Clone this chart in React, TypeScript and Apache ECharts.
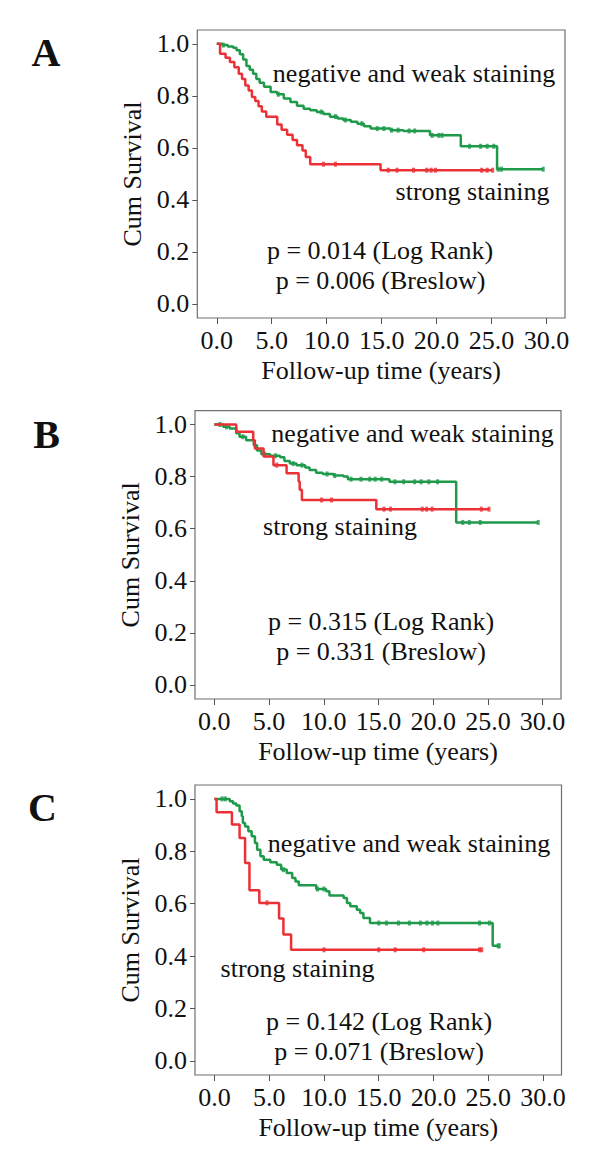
import React, { useEffect, useRef } from "react";
import * as echarts from "echarts";

const GREEN = "#1f9a4b";
const RED = "#eb3136";
const FONT = "'Liberation Serif', 'Times New Roman', serif";

const xTicks = [0, 5, 10, 15, 20, 25, 30];
const yTicks = [0, 0.2, 0.4, 0.6, 0.8, 1.0];
const xRange = [-1.77, 31.68];
const yRange = [-0.054, 1.053];

// Panel A
const aNegT = [0, 0.5, 1.0, 1.5, 1.8, 2.1, 2.4, 2.7, 3.0, 3.3, 3.6, 3.9, 4.3, 4.9, 5.5, 6.1, 6.7, 7.3, 7.9, 8.5, 9.1, 9.7, 10.3, 11.0, 11.5, 12.2, 12.8, 13.4, 14.0, 15.8, 17.0, 19.4, 22.2, 25.5, 29.7];
const aNegS = [1.0, 0.995, 0.99, 0.985, 0.975, 0.96, 0.94, 0.915, 0.9, 0.885, 0.865, 0.85, 0.835, 0.815, 0.806, 0.79, 0.776, 0.762, 0.75, 0.745, 0.738, 0.73, 0.72, 0.713, 0.707, 0.7, 0.693, 0.683, 0.674, 0.668, 0.665, 0.648, 0.606, 0.518, 0.518];
const aNegCens = [0.6, 5.6, 9.5, 10.8, 11.7, 13.2, 14.6, 15.2, 15.9, 16.5, 17.5, 18.0, 19.6, 20.2, 20.5, 23.0, 24.0, 24.6, 25.2, 25.6, 25.9, 29.7];
const aStrT = [0, 0.3, 0.8, 1.2, 1.6, 2.0, 2.3, 2.6, 2.9, 3.2, 3.5, 3.8, 4.1, 4.5, 5.5, 5.9, 6.4, 6.9, 7.3, 7.8, 8.1, 8.5, 14.9, 25.1];
const aStrS = [1.0, 0.962, 0.946, 0.93, 0.91, 0.885, 0.865, 0.84, 0.82, 0.795, 0.78, 0.76, 0.74, 0.72, 0.69, 0.67, 0.65, 0.63, 0.61, 0.59, 0.565, 0.537, 0.514, 0.514];
const aStrCens = [9.7, 10.8, 15.6, 16.4, 17.9, 19.1, 19.5, 19.9, 24.1, 24.6, 25.1];

// Panel B
const bNegT = [0, 0.8, 1.4, 2.0, 2.3, 2.9, 3.6, 3.9, 4.3, 5.1, 6.0, 6.4, 6.9, 7.5, 8.3, 8.7, 9.3, 9.9, 10.9, 11.8, 12.2, 16.0, 22.1, 29.6];
const bNegS = [1.0, 0.991, 0.985, 0.966, 0.953, 0.94, 0.92, 0.9, 0.886, 0.88, 0.874, 0.86, 0.85, 0.844, 0.835, 0.825, 0.815, 0.81, 0.804, 0.8, 0.79, 0.78, 0.624, 0.624];
const bNegCens = [0.5, 1.1, 2.6, 4.6, 5.6, 7.2, 8.0, 10.3, 11.0, 12.5, 13.4, 14.2, 14.7, 15.3, 16.5, 17.3, 18.3, 18.9, 19.6, 20.4, 22.7, 23.3, 24.3, 29.6];
const bStrT = [0, 2.0, 3.55, 3.7, 4.5, 5.4, 6.6, 7.7, 7.8, 8.0, 14.8, 25.1];
const bStrS = [1.0, 0.972, 0.94, 0.908, 0.877, 0.844, 0.813, 0.781, 0.749, 0.71, 0.675, 0.675];
const bStrCens = [5.7, 9.8, 10.7, 15.5, 16.1, 19.0, 19.4, 19.9, 24.4, 25.1];

// Panel C
const cNegT = [0, 1.4, 1.7, 2.0, 2.3, 2.5, 2.6, 2.8, 3.1, 3.4, 3.7, 3.9, 4.2, 4.5, 5.1, 5.7, 6.1, 6.6, 7.1, 7.4, 7.7, 9.3, 10.2, 10.5, 11.8, 12.1, 12.4, 13.0, 13.3, 13.6, 14.2, 25.4, 26.0];
const cNegS = [1.0, 0.991, 0.982, 0.975, 0.953, 0.934, 0.908, 0.895, 0.876, 0.857, 0.832, 0.806, 0.781, 0.768, 0.758, 0.749, 0.73, 0.717, 0.698, 0.685, 0.67, 0.656, 0.647, 0.631, 0.622, 0.603, 0.59, 0.577, 0.564, 0.545, 0.526, 0.439, 0.439];
const cNegCens = [0.7, 1.0, 6.3, 9.4, 10.0, 15.0, 15.7, 16.8, 17.8, 18.8, 19.4, 19.9, 20.4, 24.2, 25.1, 25.9, 26.0];
const cStrT = [0, 0.2, 1.6, 2.3, 2.8, 3.2, 4.1, 5.9, 6.3, 7.0, 24.4];
const cStrS = [1.0, 0.949, 0.902, 0.851, 0.755, 0.651, 0.603, 0.543, 0.482, 0.424, 0.424];
const cStrCens = [4.8, 10.0, 15.0, 16.5, 19.1, 24.2, 24.4];

const letters = ["A", "B", "C"];
const negLabel = "negative and weak staining";
const strLabel = "strong staining";
const logRankP = ["p = 0.014 (Log Rank)", "p = 0.315 (Log Rank)", "p = 0.142 (Log Rank)"];
const breslowP = ["p = 0.006 (Breslow)", "p = 0.331 (Breslow)", "p = 0.071 (Breslow)"];

const curves = [
  { negT: aNegT, negS: aNegS, negC: aNegCens, strT: aStrT, strS: aStrS, strC: aStrCens },
  { negT: bNegT, negS: bNegS, negC: bNegCens, strT: bStrT, strS: bStrS, strC: bStrCens },
  { negT: cNegT, negS: cNegS, negC: cNegCens, strT: cStrT, strS: cStrS, strC: cStrCens },
];

// layout (pixels): box = plot frame [left, top, width, height]
const layouts = [
  { box: [197.3, 30, 367.7, 288], letter: [46, 52], neg: [414, 73.3], str: [472.5, 191.7], p1: [380, 250], p2: [380.5, 280] },
  { box: [195, 410.7, 366, 288.3], letter: [46.5, 434], neg: [412.5, 433.3], str: [340, 526.7], p1: [381, 621.7], p2: [381, 651.7] },
  { box: [195, 785, 366.5, 290], letter: [42.5, 807], neg: [409, 843.3], str: [297.5, 968.3], p1: [379, 1021.7], p2: [379, 1051.7] },
];

function survivalAt(times: number[], surv: number[], t: number) {
  let s = surv[0];
  for (let i = 0; i < times.length; i++) if (times[i] <= t) s = surv[i];
  return s;
}

function textEl(str: string, pos: number[], size = 26, weight = "normal") {
  return {
    type: "text",
    x: pos[0],
    y: pos[1],
    z: 10,
    style: {
      text: str,
      fontSize: size,
      fontFamily: FONT,
      fontWeight: weight,
      fill: "#111",
      align: "center",
      verticalAlign: "middle",
      textAlign: "center",
      textVerticalAlign: "middle",
    },
  };
}

export default function App() {
  const ref = useRef<HTMLDivElement>(null);
  useEffect(() => {
    if (!ref.current) return;
    const chart = echarts.init(ref.current, undefined, { renderer: "svg" });
    const grid: any[] = [];
    const xAxis: any[] = [];
    const yAxis: any[] = [];
    const series: any[] = [];
    const graphic: any[] = [];
    layouts.forEach((L, i) => {
      const [bx, by, bw, bh] = L.box;
      grid.push({ left: bx, top: by, width: bw, height: bh, show: true, borderColor: "#6f6f6f", borderWidth: 1.2, backgroundColor: "transparent" });
      xAxis.push({
        type: "value",
        gridIndex: i,
        position: "bottom",
        min: xRange[0],
        max: xRange[1],
        axisLine: { show: false, onZero: false },
        axisTick: { show: true, length: 6, customValues: xTicks, lineStyle: { color: "#555", width: 1 } },
        splitLine: { show: false },
        axisLabel: { fontFamily: FONT, fontSize: 26, color: "#111", margin: 9, customValues: xTicks, formatter: (v: number) => v.toFixed(1) },
        name: "Follow-up time (years)",
        nameLocation: "middle",
        nameGap: 39,
        nameTextStyle: { fontFamily: FONT, fontSize: 26, color: "#111" },
      });
      yAxis.push({
        type: "value",
        gridIndex: i,
        position: "left",
        min: yRange[0],
        max: yRange[1],
        axisLine: { show: false, onZero: false },
        axisTick: { show: true, length: 5, customValues: yTicks, lineStyle: { color: "#555", width: 1 } },
        splitLine: { show: false },
        axisLabel: { fontFamily: FONT, fontSize: 26, color: "#111", margin: 8, customValues: yTicks, formatter: (v: number) => v.toFixed(1) },
        name: "Cum Survival",
        nameLocation: "middle",
        nameGap: 46,
        nameTextStyle: { fontFamily: FONT, fontSize: 26, color: "#111" },
      });
      const c = curves[i];
      const groups = [
        { t: c.negT, s: c.negS, cen: c.negC, color: GREEN },
        { t: c.strT, s: c.strS, cen: c.strC, color: RED },
      ];
      groups.forEach((g) => {
        series.push({
          type: "line",
          xAxisIndex: i,
          yAxisIndex: i,
          step: "end",
          showSymbol: false,
          symbol: "none",
          lineStyle: { color: g.color, width: 2.5 },
          data: g.t.map((t, k) => [t, g.s[k]]),
        });
        series.push({
          type: "scatter",
          xAxisIndex: i,
          yAxisIndex: i,
          symbol: "rect",
          symbolSize: [3, 5],
          itemStyle: { color: g.color },
          data: g.cen.map((t) => [t, survivalAt(g.t, g.s, t)]),
        });
      });
      graphic.push(textEl(letters[i], L.letter, 40, "bold"));
      graphic.push(textEl(negLabel, L.neg));
      graphic.push(textEl(strLabel, L.str));
      graphic.push(textEl(logRankP[i], L.p1));
      graphic.push(textEl(breslowP[i], L.p2));
    });
    chart.setOption({
      animation: false,
      backgroundColor: "#ffffff",
      grid,
      xAxis,
      yAxis,
      series,
      graphic,
    });
    return () => chart.dispose();
  }, []);
  return (
    <div
      ref={ref}
      style={{ position: "absolute", left: 0, top: 0, width: 600, height: 1164, background: "#fff" }}
    />
  );
}
